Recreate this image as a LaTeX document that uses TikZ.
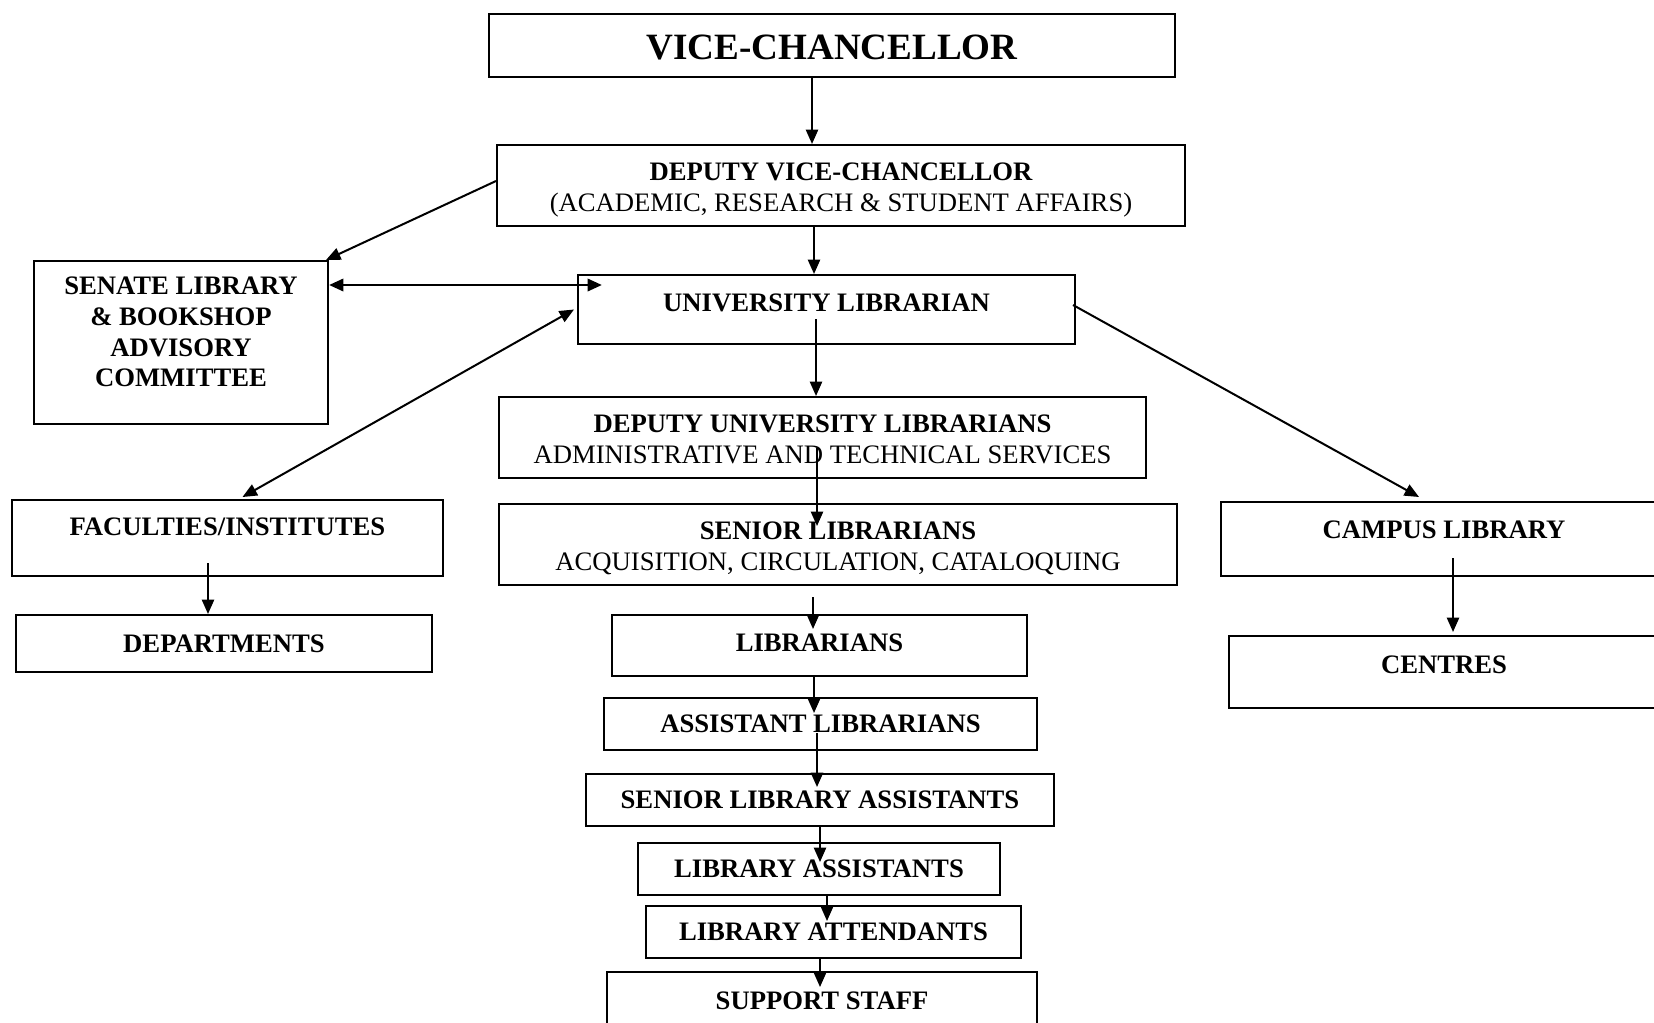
\documentclass[tikz,border=0pt]{standalone}
\usepackage{fontspec}
\setmainfont{Liberation Serif}
\usetikzlibrary{arrows.meta,calc}
\newlength{\pxunit}
\setlength{\pxunit}{0.45pt}
\begin{document}
\begin{tikzpicture}[x=\pxunit, y=-\pxunit,
  box/.style={draw, line width=0.9pt, inner sep=0pt, align=center,
    font=\fontsize{12}{13.8}\selectfont\bfseries},
  twoline/.style={text height=23.5pt, text depth=0pt},
  arr/.style={-{Triangle[length=6.5pt,width=5.5pt]}, line width=0.9pt},
  twoway/.style={{Triangle[length=6.5pt,width=5.5pt]}-{Triangle[length=6.5pt,width=5.5pt]}, line width=0.9pt}]
  \useasboundingbox (0,0) rectangle (1654,1022);
  % top of the chart
  \node[box, minimum width=686*\pxunit, minimum height=63*\pxunit,
    font=\fontsize{16.7}{20}\selectfont\bfseries,
    text height=12.9pt, text depth=0pt] (vc) at (832,45.5) {VICE-CHANCELLOR};
  \node[box, twoline, minimum width=688*\pxunit, minimum height=81*\pxunit] (dvc) at (841,185.5)
    {DEPUTY VICE-CHANCELLOR\\ \normalfont(ACADEMIC, RESEARCH \& STUDENT AFFAIRS)};
  \node[box, minimum width=294*\pxunit, minimum height=163*\pxunit,
    text height=40pt, text depth=0pt] (senate) at (181,342.5)
    {SENATE LIBRARY\\ \& BOOKSHOP\\ ADVISORY\\ COMMITTEE};
  \node[box, minimum width=497*\pxunit, minimum height=69*\pxunit,
    text height=8pt, text depth=6.1pt] (ul) at (826.5,309.5) {UNIVERSITY LIBRARIAN};
  % left and right branches
  \node[box, minimum width=431*\pxunit, minimum height=76*\pxunit,
    text height=8pt, text depth=10.5pt] (fac) at (227.5,538) {FACULTIES/INSTITUTES};
  \node[box, minimum width=416*\pxunit, minimum height=57*\pxunit] (dept) at (224,643.5) {DEPARTMENTS};
  \node[box, minimum width=446*\pxunit, minimum height=74*\pxunit,
    text height=8pt, text depth=8.6pt] (campus) at (1444,539) {CAMPUS LIBRARY};
  \node[box, minimum width=430*\pxunit, minimum height=72*\pxunit,
    text height=8pt, text depth=6.8pt] (centres) at (1444,672) {CENTRES};
  % library staff
  \node[box, twoline, minimum width=647*\pxunit, minimum height=81*\pxunit] (dul) at (822.5,437.5)
    {DEPUTY UNIVERSITY LIBRARIANS\\ \normalfont ADMINISTRATIVE AND TECHNICAL SERVICES};
  \node[box, twoline, minimum width=678*\pxunit, minimum height=81*\pxunit] (senior) at (838,544.5)
    {SENIOR LIBRARIANS\\ \normalfont ACQUISITION, CIRCULATION, CATALOQUING};
  \node[box, minimum width=415*\pxunit, minimum height=61*\pxunit,
    text height=8pt, text depth=2.8pt] (lib) at (819.5,645.5) {LIBRARIANS};
  \node[box, minimum width=433*\pxunit, minimum height=52*\pxunit] (asst) at (820.5,724) {ASSISTANT LIBRARIANS};
  \node[box, minimum width=468*\pxunit, minimum height=52*\pxunit] (sla) at (820,800) {SENIOR LIBRARY ASSISTANTS};
  \node[box, minimum width=362*\pxunit, minimum height=52*\pxunit] (la) at (819,869) {LIBRARY ASSISTANTS};
  \node[box, minimum width=375*\pxunit, minimum height=52*\pxunit] (latt) at (833.5,932) {LIBRARY ATTENDANTS};
  \node[box, minimum width=430*\pxunit, minimum height=58*\pxunit] (sup) at (822,1001) {SUPPORT STAFF};
  % connectors
  \draw[arr] ($(vc.south)+(-20,0)$) -- ($(dvc.north)+(-29,0)$);
  \draw[arr] ($(dvc.south)+(-27,0)$) -- ($(ul.north)+(-12.5,0)$);
  \draw[arr] ($(dvc.west)+(0,-4.5)$) -- ($(senate.north east)+(-3,0)$);
  \draw[twoway, line width=1.3pt] ($(senate.east)+(0,-57.5)$) -- ($(ul.west)+(25,-24.5)$);
  \draw[twoway] ($(fac.north)+(15,-2)$) -- ($(ul.west)+(-3,0)$);
  \draw[arr] ($(ul.east)+(-3,-4.5)$) -- ($(campus.north)+(-25,-4)$);
  \draw[arr] ($(ul.south)+(-10.5,-26)$) -- ($(dul.north)+(-6.5,0)$);
  \draw[arr] ($(dul.center)+(-5.5,10.5)$) -- ($(senior.north)+(-21,23)$);
  \draw[arr] ($(senior.south)+(-25,11)$) -- ($(lib.north)+(-6.5,15)$);
  \draw[arr] ($(lib.south)+(-5.5,0)$) -- ($(asst.north)+(-6.5,16)$);
  \draw[arr] ($(asst.center)+(-3.5,9)$) -- ($(sla.north)+(-3,14)$);
  \draw[arr] (sla.south) -- ($(la.north)+(1,20)$);
  \draw[arr] ($(la.south)+(8,-2)$) -- ($(latt.north)+(-6.5,16)$);
  \draw[arr] ($(latt.south)+(-13.5,0)$) -- ($(sup.north)+(-2,16)$);
  \draw[arr] ($(fac.south)+(-19.5,-14)$) -- ($(dept.north)+(-16,0)$);
  \draw[arr] ($(campus.south)+(9,-19)$) -- ($(centres.north)+(9,-3)$);
\end{tikzpicture}
\end{document}
